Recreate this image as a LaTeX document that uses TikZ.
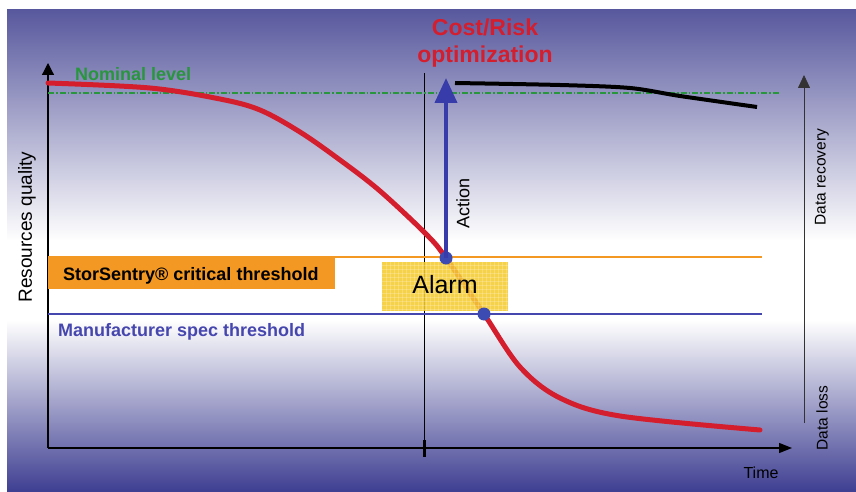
\documentclass[tikz,border=0pt]{standalone}
\usepackage{fontspec}
\setmainfont{Liberation Sans}
\usetikzlibrary{arrows.meta, positioning}
\definecolor{bgtop}{RGB}{88, 88, 158}
\definecolor{bgbot}{RGB}{62, 62, 146}
\definecolor{curvered}{RGB}{212, 30, 45}
\definecolor{actionblue}{RGB}{55, 60, 170}
\definecolor{dotblue}{RGB}{60, 75, 178}
\definecolor{nomgreen}{RGB}{40, 150, 60}
\definecolor{critorange}{RGB}{243, 152, 35}
\definecolor{specblue}{RGB}{70, 70, 175}
\definecolor{alarmyellow}{RGB}{244, 204, 50}

\begin{document}
\begin{tikzpicture}[x=1pt, y=-1pt,
  boldlabel/.style={font=\fontsize{18}{21}\selectfont\bfseries},
  sidelabel/.style={rotate=90, font=\fontsize{15.5}{18}\selectfont},
  threshold/.style={line width=1.5pt},
  axis/.style={line width=1.2pt}]
  \useasboundingbox (0,0) rectangle (856,492);

  % Background - fades to white in the middle
  \shade[top color=bgtop, bottom color=white] (7,10) rectangle (856,241);
  \fill[white] (7,240) rectangle (856,321);
  \shade[top color=white, bottom color=bgbot] (7,320) rectangle (856,492);

  % Axes
  \coordinate (origin) at (48,448);
  \coordinate (ytop) at (48,63);
  \coordinate (xend) at (792,448);
  \draw[axis, -{Triangle[width=12pt, length=12pt]}] (origin) -- (ytop);
  \draw[axis, -{Triangle[width=10pt, length=13pt]}] (origin) -- (xend);

  % Right scale: data loss to data recovery
  \coordinate (rbot) at (804,423);
  \coordinate (rtop) at (804,75);
  \draw[line width=0.8pt, black!80, -{Triangle[width=12pt, length=13pt]}] (rbot) -- (rtop);

  % Alarm instant
  \coordinate (ttop) at (424,73);
  \coordinate (tbot) at (424,457);
  \coordinate (ttick) at (424,440);
  \draw[line width=1pt] (ttop) -- (tbot);
  \draw[line width=3pt] (ttick) -- (tbot);

  % Nominal level
  \coordinate (nomleft) at (48,93);
  \coordinate (nomright) at (780,93);
  \draw[nomgreen, line width=1.2pt, dash pattern=on 6pt off 2pt on 1.5pt off 2pt] (nomleft) -- (nomright);
  \node[boldlabel, nomgreen, anchor=base west, inner sep=0pt] (nominal) at (75,81) {Nominal level};

  % Thresholds
  \coordinate (critleft) at (48,257);
  \coordinate (critright) at (762,257);
  \coordinate (specleft) at (48,314);
  \coordinate (specright) at (762,314);
  \draw[critorange, threshold] (critleft) -- (critright);
  \draw[specblue, threshold] (specleft) -- (specright);
  \node[fill=critorange, anchor=north west, minimum width=287pt, minimum height=32pt,
        inner sep=0pt] (critbox) at (critleft) {};
  \node[boldlabel, anchor=base west, inner sep=0pt] (critical) at (63,280) {StorSentry® critical threshold};
  \node[boldlabel, specblue, anchor=base west, inner sep=0pt] (spec) at (58,336) {Manufacturer spec threshold};

  % Resource quality over time
  \draw[curvered, line width=5pt, line cap=round] plot[smooth, tension=0.55] coordinates {
    (48,83) (150,88) (220,99) (260,110) (300,132) (340,160) (380,191) (427,235)
    (446,258) (484,314) (520,367) (560,398) (620,416) (760,430)};

  % Quality after the action
  \draw[line width=4pt] plot[smooth, tension=0.5] coordinates {
    (455,83) (560,85) (630,88) (680,96) (757,107)};

  % Alarm window
  \node[fill=alarmyellow, fill opacity=0.88, minimum width=126pt, minimum height=49pt,
        inner sep=0pt] (alarmbox) at (445,286.5) {};
  \foreach \gx in {386,390,...,506} {
    \draw[white, opacity=0.2, line width=0.5pt] (\gx,262) -- (\gx,311);
  }
  \foreach \gy in {265,269,...,309} {
    \draw[white, opacity=0.2, line width=0.5pt] (382,\gy) -- (508,\gy);
  }
  \node[font=\fontsize{25}{28}\selectfont, anchor=base, inner sep=0pt] (alarm) at (445,293) {Alarm};

  % Crossing points
  \coordinate (alert) at (446,258);
  \coordinate (fail) at (484,314);
  \fill[dotblue] (alert) circle (6.5pt);
  \fill[dotblue] (fail) circle (6.5pt);

  % Action arrow
  \coordinate (recover) at (446,78);
  \draw[actionblue, line width=4pt, -{Triangle[width=22pt, length=25pt]}] (alert) -- (recover);
  \node[rotate=90, font=\fontsize{18}{21}\selectfont] (action) at (463,203) {Action};

  % Axis labels
  \node[rotate=90, font=\fontsize{19}{22}\selectfont] (quality) at (27,227) {Resources quality};
  \node[sidelabel] (recovery) at (822,177) {Data recovery};
  \node[sidelabel] (loss) at (822,418) {Data loss};
  \node[font=\fontsize{16}{19}\selectfont, anchor=base, inner sep=0pt] (time) at (761,478) {Time};

  % Title
  \node[curvered, font=\fontsize{23}{27}\selectfont\bfseries, anchor=base, inner sep=0pt] (risk) at (485,36) {Cost/Risk};
  \node[curvered, font=\fontsize{23}{27}\selectfont\bfseries, anchor=base, inner sep=0pt] (optim) at (485,63) {optimization};
\end{tikzpicture}
\end{document}
